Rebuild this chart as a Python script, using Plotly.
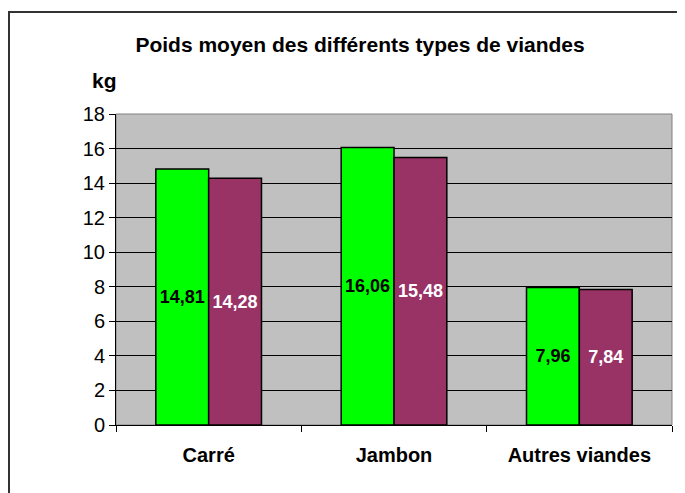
import plotly.graph_objects as go

categories = ['Carré', 'Jambon', 'Autres viandes']
serie_a = [14.81, 16.06, 7.96]
serie_b = [14.28, 15.48, 7.84]
labels_a = ['14,81', '16,06', '7,96']
labels_b = ['14,28', '15,48', '7,84']

FONT = 'Liberation Sans, Arial, sans-serif'

fig = go.Figure()

fig.add_trace(go.Bar(
    x=categories,
    y=serie_a,
    text=['<b>%s</b>' % t for t in labels_a],
    textposition='inside',
    insidetextanchor='middle',
    textangle=0,
    textfont=dict(family=FONT, size=18, color='black'),
    marker=dict(color='#00FF00', line=dict(color='black', width=1.5)),
    showlegend=False,
))

fig.add_trace(go.Bar(
    x=categories,
    y=serie_b,
    text=['<b>%s</b>' % t for t in labels_b],
    textposition='inside',
    insidetextanchor='middle',
    textangle=0,
    textfont=dict(family=FONT, size=18, color='white'),
    marker=dict(color='#993366', line=dict(color='black', width=1.5)),
    showlegend=False,
))

fig.update_layout(
    width=685,
    height=493,
    paper_bgcolor='white',
    plot_bgcolor='#C0C0C0',
    font=dict(family=FONT, color='black'),
    title=dict(
        text='<b>Poids moyen des différents types de viandes</b>',
        x=0.514, xanchor='center', y=0.925, yanchor='middle',
        font=dict(size=21),
    ),
    margin=dict(l=108, r=21, t=106, b=76),
    barmode='group',
    bargap=0.43,
    bargroupgap=0,
    xaxis=dict(
        tickson='boundaries',
        ticks='outside', ticklen=6, tickcolor='black',
        showgrid=False,
        showline=True, linecolor='black', linewidth=1,
        tickfont=dict(size=20, family=FONT),
        tickprefix='<b>', ticksuffix='</b>',
        ticklabelstandoff=12,
    ),
    yaxis=dict(
        range=[0, 18], dtick=2,
        ticks='outside', ticklen=6, tickcolor='black',
        showgrid=True, gridcolor='black', gridwidth=1,
        showline=True, linecolor='black', linewidth=1,
        zeroline=False,
        tickfont=dict(size=20, family=FONT),
    ),
    annotations=[dict(
        text='<b>kg</b>', xref='paper', yref='paper',
        x=0.006, y=1.109, xanchor='right', yanchor='middle',
        showarrow=False, font=dict(size=21),
    )],
    shapes=[
        dict(type='rect', xref='paper', yref='paper', x0=0, x1=1, y0=0, y1=1,
             line=dict(color='#808080', width=1), layer='below'),
        dict(type='rect', xref='paper', yref='paper',
             x0=(1 - 108) / 556, x1=1.2, y0=-0.5, y1=(106 - 4) / 311 + 1,
             line=dict(color='#333333', width=2), fillcolor='rgba(0,0,0,0)'),
    ],
)

fig.write_html('out.html')
